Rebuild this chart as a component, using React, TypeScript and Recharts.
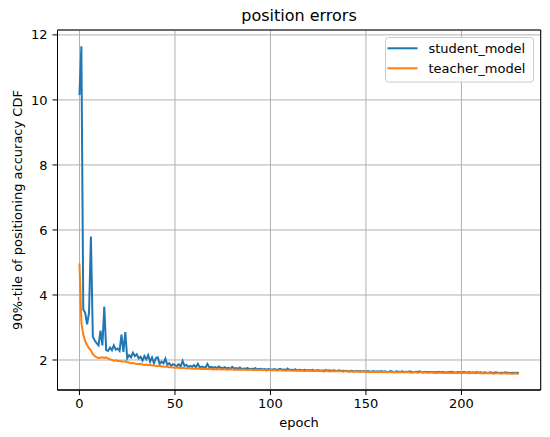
import React from 'react';
import { LineChart, Line, XAxis, YAxis, CartesianGrid, ReferenceArea, Customized } from 'recharts';

const studentModel: number[] = [
  10.15, 11.65, 3.55, 3.45, 3.1, 3.45, 5.8, 2.72, 2.6, 2.52,
  2.45, 2.9, 2.45, 3.64, 2.3, 2.28, 2.38, 2.3, 2.45, 2.32,
  2.35, 2.28, 2.78, 2.25, 2.86, 2.05, 2.15, 2.08, 2.22, 2.12,
  2.18, 2.05, 2.1, 1.98, 2.12, 2.02, 2.15, 1.95, 2.08, 1.9,
  2.06, 2.08, 1.88, 1.95, 1.9, 2.04, 1.85, 1.9, 1.82, 1.87,
  1.84, 1.81, 1.87, 1.8, 1.97, 1.82, 1.85, 1.78, 1.82, 1.79,
  1.84, 1.78, 1.88, 1.77, 1.8, 1.78, 1.76, 1.88, 1.77, 1.79,
  1.76, 1.78, 1.75, 1.8, 1.76, 1.74, 1.78, 1.74, 1.76, 1.73,
  1.79, 1.74, 1.75, 1.73, 1.77, 1.72, 1.74, 1.73, 1.75, 1.72,
  1.73, 1.72, 1.75, 1.71, 1.72, 1.73, 1.71, 1.72, 1.7, 1.72,
  1.71, 1.7, 1.72, 1.7, 1.71, 1.73, 1.7, 1.71, 1.69, 1.74,
  1.69, 1.7, 1.69, 1.71, 1.68, 1.7, 1.69, 1.68, 1.7, 1.68,
  1.69, 1.68, 1.7, 1.67, 1.68, 1.69, 1.67, 1.68, 1.67, 1.69,
  1.67, 1.68, 1.66, 1.68, 1.67, 1.66, 1.68, 1.66, 1.67, 1.66,
  1.67, 1.65, 1.67, 1.66, 1.65, 1.67, 1.65, 1.66, 1.65, 1.66,
  1.64, 1.66, 1.65, 1.64, 1.66, 1.64, 1.65, 1.64, 1.66, 1.64,
  1.65, 1.63, 1.64, 1.66, 1.64, 1.63, 1.65, 1.64, 1.63, 1.65,
  1.63, 1.64, 1.63, 1.65, 1.63, 1.62, 1.64, 1.63, 1.65, 1.63,
  1.62, 1.64, 1.63, 1.62, 1.64, 1.62, 1.63, 1.62, 1.64, 1.62,
  1.63, 1.62, 1.61, 1.63, 1.62, 1.64, 1.62, 1.61, 1.63, 1.62,
  1.61, 1.63, 1.62, 1.61, 1.63, 1.61, 1.62, 1.61, 1.63, 1.61,
  1.62, 1.6, 1.62, 1.61, 1.6, 1.62, 1.61, 1.6, 1.62, 1.61,
  1.6, 1.61, 1.6, 1.62, 1.6, 1.61, 1.6, 1.61, 1.6, 1.61,
  1.6,
];

const teacherModel: number[] = [
  4.97, 3.15, 2.78, 2.58, 2.46, 2.36, 2.3, 2.18, 2.12, 2.08,
  2.06, 2.07, 2.08, 2.06, 2.08, 2.04, 2.02, 2.0, 1.98, 1.99,
  1.97, 1.97, 1.96, 1.95, 1.95, 1.93, 1.92, 1.9, 1.91, 1.89,
  1.88, 1.87, 1.88, 1.86, 1.85, 1.86, 1.84, 1.85, 1.83, 1.84,
  1.82, 1.81, 1.82, 1.8, 1.8, 1.79, 1.8, 1.78, 1.78, 1.77,
  1.76, 1.77, 1.76, 1.75, 1.76, 1.75, 1.74, 1.75, 1.74, 1.74,
  1.73, 1.74, 1.73, 1.73, 1.72, 1.73, 1.72, 1.73, 1.72, 1.72,
  1.71, 1.72, 1.71, 1.72, 1.71, 1.71, 1.72, 1.7, 1.71, 1.71,
  1.71, 1.7, 1.71, 1.7, 1.7, 1.71, 1.7, 1.7, 1.69, 1.7,
  1.7, 1.69, 1.7, 1.69, 1.69, 1.7, 1.69, 1.69, 1.68, 1.69,
  1.69, 1.68, 1.69, 1.68, 1.68, 1.69, 1.68, 1.68, 1.67, 1.68,
  1.68, 1.67, 1.68, 1.67, 1.67, 1.68, 1.67, 1.67, 1.66, 1.67,
  1.67, 1.66, 1.67, 1.66, 1.66, 1.67, 1.66, 1.66, 1.65, 1.66,
  1.66, 1.65, 1.66, 1.65, 1.65, 1.66, 1.65, 1.65, 1.64, 1.65,
  1.65, 1.64, 1.65, 1.64, 1.64, 1.65, 1.64, 1.64, 1.64, 1.65,
  1.64, 1.63, 1.64, 1.63, 1.64, 1.63, 1.63, 1.64, 1.63, 1.63,
  1.63, 1.62, 1.63, 1.63, 1.62, 1.63, 1.62, 1.62, 1.63, 1.62,
  1.62, 1.63, 1.62, 1.62, 1.61, 1.62, 1.62, 1.61, 1.62, 1.62,
  1.61, 1.62, 1.61, 1.61, 1.62, 1.61, 1.61, 1.6, 1.61, 1.61,
  1.61, 1.6, 1.61, 1.61, 1.6, 1.61, 1.6, 1.6, 1.61, 1.6,
  1.6, 1.61, 1.6, 1.6, 1.59, 1.6, 1.6, 1.59, 1.6, 1.6,
  1.59, 1.6, 1.59, 1.59, 1.6, 1.59, 1.59, 1.58, 1.59, 1.59,
  1.59, 1.58, 1.59, 1.59, 1.58, 1.59, 1.58, 1.58, 1.59, 1.58,
  1.58,
];

const xTicks: number[] = [0, 50, 100, 150, 200];
const yTicks: number[] = [2, 4, 6, 8, 10, 12];
const xDomain: [number, number] = [-11.5, 241.5];
const yDomain: [number, number] = [1.077, 12.15];

const seriesNames = { student: 'student_model', teacher: 'teacher_model' };
const titleText = 'position errors';
const xLabelText = 'epoch';
const yLabelText = '90%-tile of positioning accuracy CDF';

const BLUE = '#1f77b4';
const ORANGE = '#ff7f0e';
const FONT = 'DejaVu Sans, sans-serif';

const data = studentModel.map((s, i) => ({ epoch: i, student: s, teacher: teacherModel[i] }));

const Texts = () => (
  <g fontFamily={FONT} fill="#000">
    <text x={299} y={21} fontSize={16} textAnchor="middle">{titleText}</text>
    <text x={299} y={427} fontSize={13} textAnchor="middle">{xLabelText}</text>
    <text x={22} y={210} fontSize={13} textAnchor="middle" transform="rotate(-90 22 210)">{yLabelText}</text>
    <g transform="translate(385 37)">
      <rect x={0.5} y={0.5} width={148} height={44.5} rx={3} ry={3} fill="#fff" fillOpacity={0.8} stroke="#cccccc" strokeWidth={1} />
      <line x1={2.5} x2={32.5} y1={11.3} y2={11.3} stroke={BLUE} strokeWidth={2} />
      <line x1={2.5} x2={32.5} y1={31.3} y2={31.3} stroke={ORANGE} strokeWidth={2} />
      <text x={43.5} y={11.3} dy="0.36em" fontSize={13}>{seriesNames.student}</text>
      <text x={43.5} y={31.3} dy="0.36em" fontSize={13}>{seriesNames.teacher}</text>
    </g>
  </g>
);

export default function App() {
  return (
    <div style={{ position: 'absolute', left: 0, top: 0, width: 550, height: 437, background: '#fff' }}>
      <LineChart width={550} height={437} data={data} margin={{ top: 30, right: 9.3, left: 0, bottom: 0 }}>
        <CartesianGrid stroke="#b0b0b0" strokeWidth={1} />
        <XAxis
          dataKey="epoch"
          type="number"
          domain={xDomain}
          ticks={xTicks}
          allowDataOverflow
          height={47}
          tickSize={5}
          tickMargin={4}
          stroke="#000"
          tickLine={{ stroke: '#000' }}
          axisLine={{ stroke: '#000' }}
          tick={{ fill: '#000', fontSize: 13, fontFamily: FONT }}
        />
        <YAxis
          type="number"
          domain={yDomain}
          ticks={yTicks}
          allowDataOverflow
          width={57.5}
          tickSize={5}
          tickMargin={5}
          stroke="#000"
          tickLine={{ stroke: '#000' }}
          axisLine={{ stroke: '#000' }}
          tick={{ fill: '#000', fontSize: 13, fontFamily: FONT }}
        />
        <Line type="linear" dataKey="student" name={seriesNames.student} stroke={BLUE} strokeWidth={2} dot={false} isAnimationActive={false} />
        <Line type="linear" dataKey="teacher" name={seriesNames.teacher} stroke={ORANGE} strokeWidth={2} dot={false} isAnimationActive={false} />
        <ReferenceArea x1={xDomain[0]} x2={xDomain[1]} y1={yDomain[0]} y2={yDomain[1]} fill="none" stroke="#000" strokeWidth={1} ifOverflow="visible" />
        <Customized component={Texts} />
      </LineChart>
    </div>
  );
}
